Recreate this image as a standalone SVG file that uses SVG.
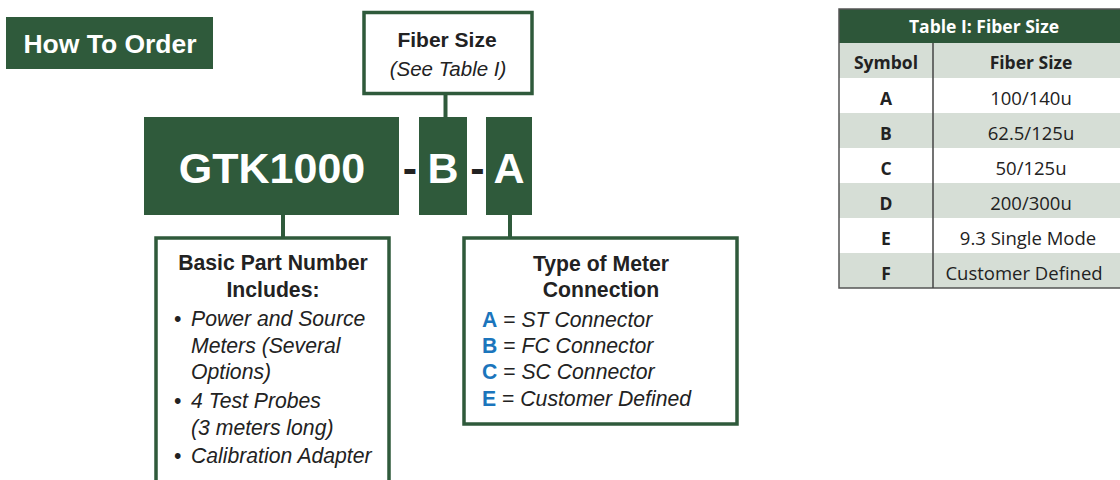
<svg xmlns="http://www.w3.org/2000/svg" width="1120" height="480" viewBox="0 0 1120 480">
<style>
.g{fill:#2f5a3b}
.box{fill:#fff;stroke:#2f5a3b;stroke-width:3.5}
.conn{stroke:#2f5a3b;stroke-width:4;fill:none}
.w{fill:#fff}
.k{fill:#222}
.b{font-weight:bold}
.i{font-style:italic}
.blue{fill:#1b75bc;font-weight:bold;font-style:normal}
.lt{fill:#d6ded6}
</style>
<rect width="1120" height="480" fill="#fff"/>
<g id="how-to-order">
<rect class="g" x="6" y="17" width="207" height="52"/>
<text font-family="Liberation Sans, Arimo, Arial, Helvetica, sans-serif" class="b w" x="110" y="53" font-size="26.5" text-anchor="middle">How To Order</text>
</g>
<g id="connectors">
<line class="conn" x1="445.5" y1="95" x2="445.5" y2="118"/>
<line class="conn" x1="283" y1="215" x2="283" y2="238"/>
<line class="conn" x1="510" y1="215" x2="510" y2="238"/>
</g>
<g font-family="Liberation Sans, Arimo, Arial, Helvetica, sans-serif">
<g id="fiber-size">
<rect class="box" x="364" y="12.5" width="168" height="81"/>
<text class="b k" x="447" y="47" font-size="21" text-anchor="middle">Fiber Size</text>
<text class="i k" x="448" y="76" font-size="20.5" text-anchor="middle">(See Table I)</text>
</g>
<g id="gtk1000">
<rect class="g" x="144" y="117" width="255" height="98"/>
<text class="b w" x="272" y="183" font-size="43" text-anchor="middle">GTK1000</text>
</g>
<g id="dash1"><text class="b k" x="410" y="183" font-size="43" text-anchor="middle">-</text></g>
<g id="code-b">
<rect class="g" x="419" y="117" width="48" height="98"/>
<text class="b w" x="443" y="183" font-size="43" text-anchor="middle">B</text>
</g>
<g id="dash2"><text class="b k" x="477.5" y="183" font-size="43" text-anchor="middle">-</text></g>
<g id="code-a">
<rect class="g" x="486" y="117" width="46" height="98"/>
<text class="b w" x="509" y="183" font-size="43" text-anchor="middle">A</text>
</g>
<g id="basic-part">
<rect class="box" x="156" y="238" width="233" height="260"/>
<text class="b k" x="273" y="270" font-size="21.2" text-anchor="middle">Basic Part Number</text>
<text class="b k" x="273" y="297" font-size="21.2" text-anchor="middle">Includes:</text>
<g class="k" font-size="21.2">
<text x="174" y="326">•</text>
<text class="i" x="191" y="326">Power and Source</text>
<text class="i" x="191" y="353">Meters (Several</text>
<text class="i" x="191" y="379">Options)</text>
<text x="174" y="408">•</text>
<text class="i" x="191" y="408">4 Test Probes</text>
<text class="i" x="191" y="435">(3 meters long)</text>
<text x="174" y="463">•</text>
<text class="i" x="191" y="463">Calibration Adapter</text>
</g>
</g>
<g id="meter-connection">
<rect class="box" x="464" y="238" width="273" height="186"/>
<text class="b k" x="601" y="271" font-size="21.2" text-anchor="middle">Type of Meter</text>
<text class="b k" x="601" y="297" font-size="21.2" text-anchor="middle">Connection</text>
<g class="k" font-size="21.2">
<text x="482" y="327"><tspan class="blue">A</tspan> = <tspan class="i">ST Connector</tspan></text>
<text x="482" y="353"><tspan class="blue">B</tspan> = <tspan class="i">FC Connector</tspan></text>
<text x="482" y="379"><tspan class="blue">C</tspan> = <tspan class="i">SC Connector</tspan></text>
<text x="482" y="406"><tspan class="blue">E</tspan> = <tspan class="i">Customer Defined</tspan></text>
</g>
</g>
</g>
<g id="table-fiber-size" font-family="Open Sans, Noto Sans, sans-serif">
<rect x="839" y="9" width="290" height="34" fill="#2d5639"/>
<rect class="lt" x="839" y="43" width="290" height="35"/>
<rect fill="#fff" x="839" y="78" width="290" height="35"/>
<rect class="lt" x="839" y="113" width="290" height="35"/>
<rect fill="#fff" x="839" y="148" width="290" height="35"/>
<rect class="lt" x="839" y="183" width="290" height="35"/>
<rect fill="#fff" x="839" y="218" width="290" height="35"/>
<rect class="lt" x="839" y="253" width="290" height="35"/>
<rect x="839" y="9" width="290" height="279" fill="none" stroke="#555" stroke-width="1.5"/>
<line x1="933" y1="43" x2="933" y2="288" stroke="#444" stroke-width="1.5"/>
<text class="b w" x="984" y="33" font-size="17.5" text-anchor="middle">Table I: Fiber Size</text>
<g class="b k" font-size="17.5" text-anchor="middle">
<text x="886" y="69">Symbol</text>
<text x="1031" y="69">Fiber Size</text>
<text x="886" y="105">A</text>
<text x="886" y="140">B</text>
<text x="886" y="175">C</text>
<text x="886" y="210">D</text>
<text x="886" y="245">E</text>
<text x="886" y="280">F</text>
</g>
<g class="k" font-size="18.5" text-anchor="middle">
<text x="1031" y="105">100/140u</text>
<text x="1031" y="140">62.5/125u</text>
<text x="1031" y="175">50/125u</text>
<text x="1031" y="210">200/300u</text>
<text x="1028" y="245">9.3 Single Mode</text>
<text x="1024" y="280">Customer Defined</text>
</g>
</g>
</svg>
